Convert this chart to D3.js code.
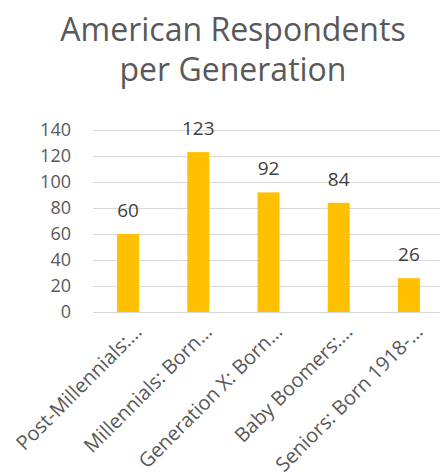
<!DOCTYPE html>
<html>
<head>
<meta charset="utf-8">
<script src="https://cdn.jsdelivr.net/npm/d3@7"></script>
<style>
  html, body { margin: 0; padding: 0; background: #fff; }
  svg { display: block; }
</style>
</head>
<body>
<svg id="chart" width="440" height="476"></svg>
<script>
const categories = [
  "Post-Millennials:…",
  "Millennials: Born…",
  "Generation X: Born…",
  "Baby Boomers:…",
  "Seniors: Born 1918-…"
];
const respondents = [60, 123, 92, 84, 26];
const yTicks = [0, 20, 40, 60, 80, 100, 120, 140];
const titleLines = ["American Respondents", "per Generation"];

const svg = d3.select("#chart");
const font = "'Open Sans', sans-serif";

const x = d3.scaleBand()
  .domain(categories)
  .range([93, 444])
  .paddingInner(0.687)
  .paddingOuter(0.343);

const y = d3.scaleLinear()
  .domain([0, 140])
  .range([312, 130]);

// Title
svg.append("g")
  .selectAll("text")
  .data(titleLines)
  .join("text")
  .attr("x", 233)
  .attr("y", (d, i) => 41 + i * 40)
  .attr("text-anchor", "middle")
  .attr("font-family", font)
  .attr("font-size", 32)
  .attr("fill", "#595959")
  .text(d => d);

// Gridlines
svg.append("g")
  .selectAll("line")
  .data(yTicks)
  .join("line")
  .attr("x1", 93)
  .attr("x2", 440)
  .attr("y1", d => Math.round(y(d)) + 0.5)
  .attr("y2", d => Math.round(y(d)) + 0.5)
  .attr("stroke", "#d9d9d9")
  .attr("stroke-width", 1);

// Y axis labels
const yAxis = svg.append("g")
  .attr("transform", "translate(71,0)")
  .call(d3.axisLeft(y).tickValues(yTicks).tickSize(0).tickPadding(0));
yAxis.select(".domain").remove();
yAxis.selectAll("text")
  .attr("font-family", font)
  .attr("font-size", 18)
  .attr("fill", "#595959");

// Bars
svg.append("g")
  .selectAll("rect")
  .data(respondents)
  .join("rect")
  .attr("x", (d, i) => x(categories[i]))
  .attr("width", x.bandwidth())
  .attr("y", d => y(d))
  .attr("height", d => y(0) - y(d))
  .attr("fill", "#FFC000");

// Value labels
svg.append("g")
  .selectAll("text")
  .data(respondents)
  .join("text")
  .attr("x", (d, i) => x(categories[i]) + x.bandwidth() / 2)
  .attr("y", d => y(d) - 17)
  .attr("text-anchor", "middle")
  .attr("font-family", font)
  .attr("font-size", 19)
  .attr("fill", "#404040")
  .text(d => d);

// Category labels, rotated
svg.append("g")
  .selectAll("text")
  .data(categories)
  .join("text")
  .attr("transform", d => `translate(${x(d) + x.bandwidth() / 2 + 15},${333}) rotate(-45)`)
  .attr("text-anchor", "end")
  .attr("font-family", font)
  .attr("font-size", 20)
  .attr("fill", "#595959")
  .text(d => d);
</script>
</body>
</html>
